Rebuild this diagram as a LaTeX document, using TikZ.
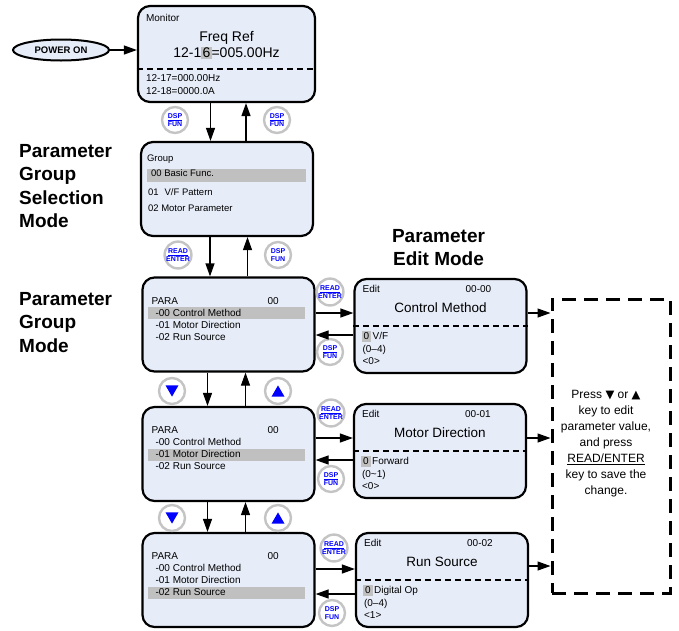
\documentclass[tikz,border=0pt]{standalone}
\usepackage{fontspec}
\setmainfont{Liberation Sans}
\newfontfamily\symbolfont{DejaVu Sans}
\usetikzlibrary{arrows.meta,positioning,shapes.geometric}

\definecolor{panelblue}{RGB}{230,236,248}
\definecolor{hlgray}{RGB}{192,192,192}
\definecolor{ringgray}{RGB}{196,196,196}
\newcommand{\hlval}[2][1.2pt]{{\setlength{\fboxsep}{#1}\colorbox{hlgray}{#2}}}
\newcommand{\symdn}{{\symbolfont\fontsize{11.5}{16}\selectfont ▼}}
\newcommand{\symup}{{\symbolfont\fontsize{11.5}{16}\selectfont ▲}}

\begin{document}
\begin{tikzpicture}[x=1pt,y=-1pt,
  every node/.style={inner sep=0pt},
  panel/.style={draw, rounded corners=12pt, line width=2.2pt, fill=panelblue,
    minimum width=172pt, minimum height=94pt},
  lcd/.style={font=\fontsize{10}{11}\selectfont, anchor=base west},
  glist/.style={lcd, font=\fontsize{9.5}{11}\selectfont},
  headline/.style={font=\fontsize{13.5}{16}\selectfont, anchor=base},
  modelabel/.style={font=\fontsize{19}{23.5}\selectfont\bfseries, align=left, anchor=north west},
  btn/.style={circle, draw=ringgray, line width=2.4pt, fill=white, minimum size=26pt,
    text=blue, font=\fontsize{7}{7.8}\selectfont\bfseries, align=center},
  tri/.style={regular polygon, regular polygon sides=3, fill=blue, minimum size=15pt},
  dashsep/.style={line width=2pt, dash pattern=on 6pt off 4pt},
  link/.style={line width=1.2pt, -{Triangle[length=13pt,width=9pt]}}
]
\useasboundingbox (0,0) rectangle (679,630);

% monitor
\node[ellipse, draw, line width=2pt, fill=panelblue, minimum width=96pt, minimum height=21pt,
  font=\fontsize{9.5}{11}\selectfont\bfseries] (pwr) at (61,50) {POWER ON};
\node[panel, minimum width=177pt, minimum height=96pt] (mon) at (226.5,54) {};
\node[lcd] (mon-hd) at ([shift={(9,17)}]mon.north west) {Monitor};
\node[headline, font=\fontsize{14}{16}\selectfont] (mon-t1) at ([shift={(0,37)}]mon.north) {Freq Ref};
\node[headline, font=\fontsize{14}{16}\selectfont] (mon-t2) at ([shift={(0,53)}]mon.north) {12-1\hlval{6}=005.00Hz};
\draw[dashsep] ([yshift=-15pt]mon.west) -- ([yshift=-15pt]mon.east);
\node[lcd] (mon-l1) at ([shift={(9,77)}]mon.north west) {12-17=000.00Hz};
\node[lcd] (mon-l2) at ([shift={(9,90)}]mon.north west) {12-18=0000.0A};

% group selection
\node[panel] (grp) at (227,189) {};
\node[glist] (grp-hd) at ([shift={(7,21)}]grp.north west) {Group};
\fill[hlgray] ([shift={(7,28)}]grp.north west) rectangle ([shift={(166,41)}]grp.north west);
\node[glist] (grp-l1) at ([shift={(11,36)}]grp.north west) {00 Basic Func.};
\node[glist] (grp-l2) at ([shift={(8,55)}]grp.north west) {01\hspace{6pt}V/F Pattern};
\node[glist] (grp-l3) at ([shift={(8,71)}]grp.north west) {02 Motor Parameter};

% parameter list
\node[panel] (p1) at (228.5,324.5) {};
\node[panel] (p2) at (228.5,454) {};
\node[panel] (p3) at (228.5,580) {};
\foreach \b/\h in {p1/1,p2/2,p3/3}{
  \fill[hlgray] ([shift={(7,19+12*\h)}]\b.north west) rectangle ++(157,12);
  \node[lcd] (\b-hd) at ([shift={(10,28)}]\b.north west) {PARA};
  \node[lcd] (\b-no) at ([shift={(126,28)}]\b.north west) {00};
  \node[lcd] (\b-l1) at ([shift={(14,40)}]\b.north west) {-00 Control Method};
  \node[lcd] (\b-l2) at ([shift={(14,52)}]\b.north west) {-01 Motor Direction};
  \node[lcd] (\b-l3) at ([shift={(14,64)}]\b.north west) {-02 Run Source};
}

% parameter edit
\node[panel] (e1) at (440.5,326) {};
\node[panel] (e2) at (440,451) {};
\node[panel] (e3) at (442,580) {};
\foreach \b/\n/\t/\v/\r/\d in {e1/00-00/{Control Method}/{V/F}/{(0–4)}/{<0>},
    e2/00-01/{Motor Direction}/Forward/{(0\textasciitilde 1)}/{<0>},
    e3/00-02/{Run Source}/{Digital Op}/{(0–4)}/{<1>}}{
  \node[lcd] (\b-hd) at ([shift={(9,15)}]\b.north west) {Edit};
  \node[lcd, anchor=base east] (\b-no) at ([shift={(138,15)}]\b.north west) {\n};
  \node[headline] (\b-tt) at ([shift={(0,35)}]\b.north) {\t};
  \draw[dashsep] (\b.west) -- (\b.east);
  \node[lcd] (\b-v1) at ([shift={(8,62)}]\b.north west) {\hlval[2pt]{0}\hspace{1.5pt}\v};
  \node[lcd] (\b-v2) at ([shift={(9,75)}]\b.north west) {\r};
  \node[lcd] (\b-v3) at ([shift={(9,87)}]\b.north west) {\d};
}

% mode labels
\node[modelabel] (mode-sel) at (19,144) {Parameter\\Group\\Selection\\Mode};
\node[modelabel] (mode-grp) at (19,292) {Parameter\\Group\\Mode};
\node[modelabel, align=center, above=12pt of e1, xshift=-2pt] (mode-edit) {Parameter\\Edit Mode};

% keys
\node[btn] (ds-a) at (175,120) {\underline{DSP}\\FUN};
\node[btn] (ds-b) at (277,120) {\underline{DSP}\\FUN};
\node[btn] (rd-g) at (178,255) {\underline{READ}\\ENTER};
\node[btn] (ds-g) at (278,255) {DSP\\FUN};
\node[btn] (rd-1) at (330,292) {\underline{READ}\\ENTER};
\node[btn] (ds-1) at (330,352) {\underline{DSP}\\FUN};
\node[btn] (rd-2) at (331,413) {\underline{READ}\\ENTER};
\node[btn] (ds-2) at (331,479) {\underline{DSP}\\FUN};
\node[btn] (rd-3) at (334,548) {\underline{READ}\\ENTER};
\node[btn] (ds-3) at (332,613) {DSP\\FUN};
\node[btn] (dn-1) at (172,391) {};
\node[btn] (up-1) at (278,391) {};
\node[btn] (dn-2) at (172,518) {};
\node[btn] (up-2) at (278,518) {};
\node[tri, shape border rotate=180] (dn-1t) at ([yshift=1.9pt]dn-1.center) {};
\node[tri] (up-1t) at ([yshift=-1.9pt]up-1.center) {};
\node[tri, shape border rotate=180] (dn-2t) at ([yshift=1.9pt]dn-2.center) {};
\node[tri] (up-2t) at ([yshift=-1.9pt]up-2.center) {};

% note
\node[draw, line width=3pt, dash pattern=on 14pt off 8pt, minimum width=118pt, minimum height=294pt] (note) at (611,446) {};
\node[align=center, font=\fontsize{12}{16}\selectfont] (note-txt) at ([shift={(-5,-2)}]note.center)
  {Press \symdn{} or \symup\\key to edit\\parameter value,\\and press\\\underline{READ/ENTER}\\key to save the\\change.};

% arrows
\draw[link] (pwr.east) -- (pwr.east -| mon.west);
\draw[link] ([xshift=-16pt]mon.south) -- ([xshift=-16pt]mon.south |- grp.north);
\draw[link] ([xshift=19pt]grp.north) -- ([xshift=19pt]grp.north |- mon.south);
\draw[link] ([xshift=-17pt]grp.south) -- ([xshift=-17pt]grp.south |- p1.north);
\draw[link] ([xshift=19pt]p1.north) -- ([xshift=19pt]p1.north |- grp.south);
\draw[link] ([xshift=-21pt]p1.south) -- ([xshift=-21pt]p1.south |- p2.north);
\draw[link] ([xshift=17pt]p2.north) -- ([xshift=17pt]p2.north |- p1.south);
\draw[link] ([xshift=-21pt]p2.south) -- ([xshift=-21pt]p2.south |- p3.north);
\draw[link] ([xshift=17pt]p3.north) -- ([xshift=17pt]p3.north |- p2.south);
\draw[link] ([yshift=11.5pt]p1.east) -- ([yshift=11.5pt]p1.east -| e1.west);
\draw[link] ([yshift=-10.5pt]p1.east -| e1.west) -- ([yshift=-10.5pt]p1.east);
\draw[link] ([yshift=16pt]p2.east) -- ([yshift=16pt]p2.east -| e2.west);
\draw[link] ([yshift=-6pt]p2.east -| e2.west) -- ([yshift=-6pt]p2.east);
\draw[link] ([yshift=11pt]p3.east) -- ([yshift=11pt]p3.east -| e3.west);
\draw[link] ([yshift=-14pt]p3.east -| e3.west) -- ([yshift=-14pt]p3.east);
\draw[link] ([yshift=13pt]e1.east) -- ([yshift=13pt]e1.east -| note.west);
\draw[link] ([yshift=13pt]e2.east) -- ([yshift=13pt]e2.east -| note.west);
\draw[link] ([yshift=14pt]e3.east) -- ([yshift=14pt]e3.east -| note.west);
\end{tikzpicture}
\end{document}
